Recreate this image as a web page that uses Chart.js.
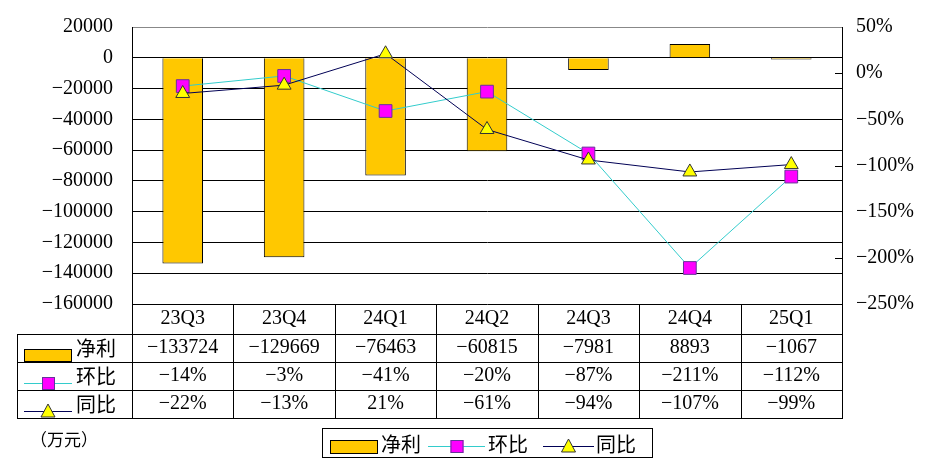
<!DOCTYPE html>
<html>
<head>
<meta charset="utf-8">
<script src="https://cdn.jsdelivr.net/npm/chart.js@4/dist/chart.umd.min.js"></script>
<style>
  body { margin: 0; background: #fff; }
  #wrap { width: 928px; height: 474px; position: relative; }
</style>
</head>
<body>
<div id="wrap"><canvas id="profitChart"></canvas></div>
<script>
// quarters and values
const quarters = ["23Q3", "23Q4", "24Q1", "24Q2", "24Q3", "24Q4", "25Q1"];
const netProfit = [-133724, -129669, -76463, -60815, -7981, 8893, -1067]; // 万元
const qoqPct = [-14, -3, -41, -20, -87, -211, -112];   // 环比
const yoyPct = [-22, -13, 21, -61, -94, -107, -99];    // 同比

const SERIF = '"Liberation Serif", "Noto Sans CJK SC", serif';
const CJK = '"Noto Sans CJK SC", sans-serif';
const BAR_COLOR = "#FFC800";
const QOQ_LINE = "#33CCCC";
const QOQ_POINT = "#FF00FF";
const YOY_LINE = "#000055";
const YOY_POINT = "#FFFF00";

function fmt(v) {
  return (v < 0 ? "\u2212" : "") + Math.abs(v);
}
function fmtPct(v) {
  return fmt(v) + "%";
}

// small helpers to draw legend keys (used in table and in bottom legend)
function drawBarKey(ctx, x, y, w, h) {
  ctx.fillStyle = BAR_COLOR;
  ctx.fillRect(x, y, w, h);
  ctx.strokeStyle = "#000";
  ctx.lineWidth = 1;
  ctx.strokeRect(x + 0.5, y + 0.5, w - 1, h - 1);
}
function drawSquareKey(ctx, x1, x2, y) {
  ctx.strokeStyle = QOQ_LINE;
  ctx.lineWidth = 1;
  ctx.beginPath();
  ctx.moveTo(x1, y + 0.5);
  ctx.lineTo(x2, y + 0.5);
  ctx.stroke();
  const cx = (x1 + x2) / 2;
  ctx.fillStyle = QOQ_POINT;
  ctx.fillRect(cx - 6, y - 6, 13, 13);
  ctx.strokeStyle = "#663399";
  ctx.strokeRect(cx - 5.5, y - 5.5, 12, 12);
}
function drawTriKey(ctx, x1, x2, y) {
  ctx.strokeStyle = YOY_LINE;
  ctx.lineWidth = 1;
  ctx.beginPath();
  ctx.moveTo(x1, y + 0.5);
  ctx.lineTo(x2, y + 0.5);
  ctx.stroke();
  const cx = (x1 + x2) / 2;
  ctx.fillStyle = YOY_POINT;
  ctx.strokeStyle = "#333";
  ctx.beginPath();
  ctx.moveTo(cx, y - 7);
  ctx.lineTo(cx + 7, y + 6);
  ctx.lineTo(cx - 7, y + 6);
  ctx.closePath();
  ctx.fill();
  ctx.stroke();
}

// data table under the plot + legend box + unit note
const tablePlugin = {
  id: "dataTable",
  afterDraw(chart) {
    const ctx = chart.ctx;
    const xs = chart.scales.x;
    const area = chart.chartArea;
    const yr = chart.scales.yRight;
    const half = (xs.getPixelForValue(1) - xs.getPixelForValue(0)) / 2;
    const tableLeft = 17;
    const rowY = [area.bottom, 334, 362, 390, 418];

    ctx.save();

    // right axis small inner tick marks
    ctx.strokeStyle = "#000";
    ctx.lineWidth = 1;
    [0, -100, -200].forEach(v => {
      const y = Math.round(yr.getPixelForValue(v)) + 0.5;
      ctx.beginPath();
      ctx.moveTo(area.right - 7, y);
      ctx.lineTo(area.right, y);
      ctx.stroke();
    });

    // grid lines of the table
    ctx.beginPath();
    for (let i = 1; i < rowY.length; i++) {
      const y = rowY[i] + 0.5;
      ctx.moveTo(tableLeft, y);
      ctx.lineTo(area.right + 1, y);
    }
    quarters.forEach((q, i) => {
      const x = Math.round(xs.getPixelForValue(i) - half) + 0.5;
      ctx.moveTo(x, rowY[0]);
      ctx.lineTo(x, rowY[4]);
    });
    const xr = Math.round(area.right) + 0.5;
    ctx.moveTo(xr, rowY[0]);
    ctx.lineTo(xr, rowY[4]);
    ctx.moveTo(tableLeft + 0.5, rowY[1]);
    ctx.lineTo(tableLeft + 0.5, rowY[4]);
    ctx.stroke();

    // cell text
    ctx.fillStyle = "#000";
    ctx.textAlign = "center";
    ctx.textBaseline = "middle";
    ctx.font = "20px " + SERIF;
    const rows = [
      quarters,
      netProfit.map(fmt),
      qoqPct.map(fmtPct),
      yoyPct.map(fmtPct)
    ];
    rows.forEach((vals, r) => {
      const cy = (rowY[r] + rowY[r + 1]) / 2;
      vals.forEach((t, i) => {
        ctx.fillText(t, xs.getPixelForValue(i), cy);
      });
    });

    // legend keys in the first column
    drawBarKey(ctx, 24, 349, 48, 13);
    drawSquareKey(ctx, 24, 72, 383);
    drawTriKey(ctx, 24, 72, 411);
    ctx.fillStyle = "#000";
    ctx.textAlign = "left";
    ctx.font = "20px " + CJK;
    ctx.fillText("净利", 76, 348);
    ctx.fillText("环比", 76, 376);
    ctx.fillText("同比", 76, 404);

    // bottom legend box
    ctx.strokeStyle = "#000";
    ctx.strokeRect(322.5, 428.5, 330, 29);
    drawBarKey(ctx, 330, 440, 48, 14);
    drawSquareKey(ctx, 428, 485, 446);
    drawTriKey(ctx, 543, 594, 446);
    ctx.fillStyle = "#000";
    ctx.fillText("净利", 381, 444);
    ctx.fillText("环比", 488, 444);
    ctx.fillText("同比", 596, 444);

    // unit note
    ctx.font = "17px " + CJK;
    ctx.fillText("（万元）", 30, 440);

    ctx.restore();
  }
};

const ctx = document.getElementById("profitChart");
new Chart(ctx, {
  type: "bar",
  data: {
    labels: quarters,
    datasets: [
      {
        type: "line",
        label: "同比",
        data: yoyPct,
        yAxisID: "yRight",
        borderColor: YOY_LINE,
        borderWidth: 1,
        pointStyle: "triangle",
        pointRadius: 8,
        pointBackgroundColor: YOY_POINT,
        pointBorderColor: "#333",
        pointBorderWidth: 1,
        tension: 0,
        order: 1
      },
      {
        type: "line",
        label: "环比",
        data: qoqPct,
        yAxisID: "yRight",
        borderColor: QOQ_LINE,
        borderWidth: 1,
        pointStyle: "rect",
        pointRadius: 9,
        pointBackgroundColor: QOQ_POINT,
        pointBorderColor: "#663399",
        pointBorderWidth: 1,
        tension: 0,
        order: 2
      },
      {
        label: "净利",
        data: netProfit,
        yAxisID: "yLeft",
        backgroundColor: BAR_COLOR,
        borderColor: "#000",
        borderWidth: 1,
        barPercentage: 0.4,
        categoryPercentage: 1,
        order: 3
      }
    ]
  },
  options: {
    responsive: true,
    maintainAspectRatio: false,
    animation: false,
    layout: { padding: { left: 0, right: 0, top: 27, bottom: 170 } },
    plugins: {
      legend: { display: false },
      tooltip: { enabled: false }
    },
    scales: {
      x: { display: false },
      yLeft: {
        position: "left",
        min: -160000,
        max: 20000,
        afterFit: s => { s.width = 132; },
        ticks: {
          stepSize: 20000,
          padding: 0,
          color: "#000",
          font: { family: SERIF, size: 20 },
          callback: v => fmt(v)
        },
        grid: {
          drawTicks: true,
          tickLength: 19,
          tickColor: "rgba(0,0,0,0)",
          color: c => (c.tick && c.tick.value === 20000 ? "#888" : "#000"),
          lineWidth: 1
        },
        border: { display: true, color: "#000" }
      },
      yRight: {
        position: "right",
        min: -250,
        max: 50,
        afterFit: s => { s.width = 86; },
        ticks: {
          stepSize: 50,
          padding: 0,
          color: "#000",
          font: { family: SERIF, size: 20 },
          callback: v => fmtPct(v)
        },
        grid: {
          display: true,
          drawOnChartArea: false,
          drawTicks: true,
          tickLength: 14,
          tickColor: "rgba(0,0,0,0)"
        },
        border: { display: true, color: "#000" }
      }
    }
  },
  plugins: [tablePlugin]
});
</script>
</body>
</html>
